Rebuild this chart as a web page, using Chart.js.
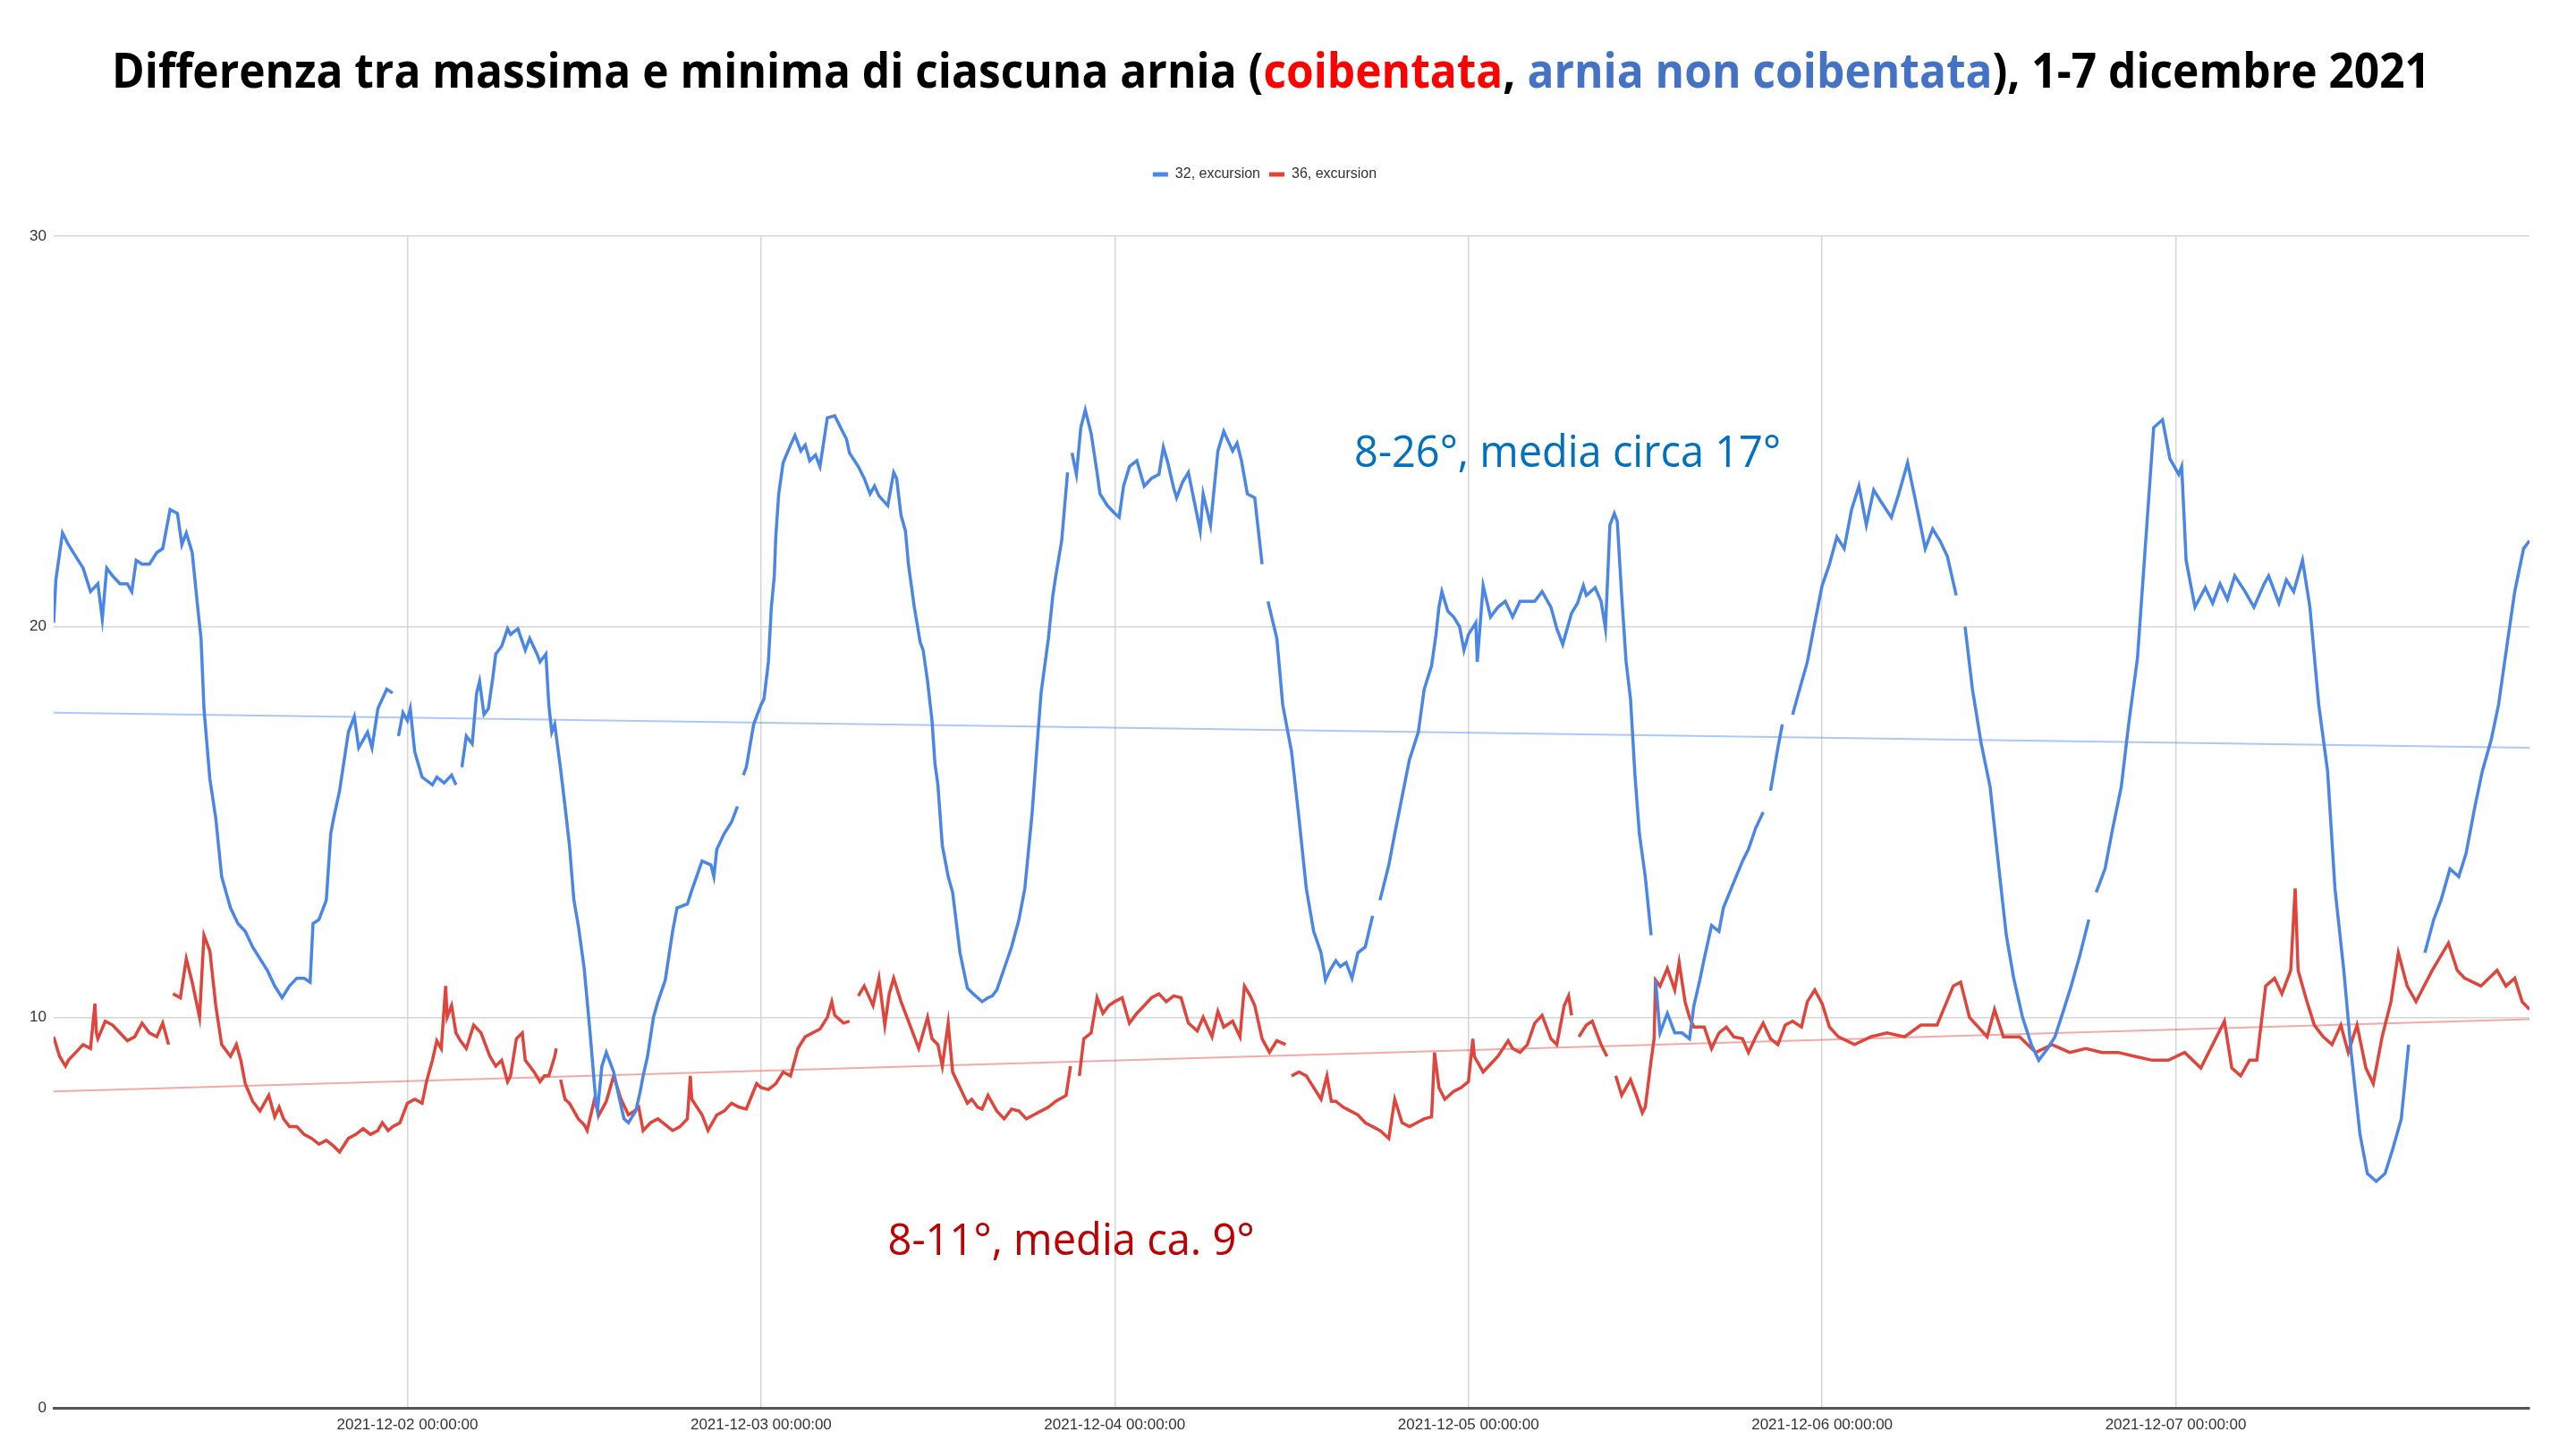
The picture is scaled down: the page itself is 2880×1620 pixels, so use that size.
<!DOCTYPE html>
<html>
<head>
<meta charset="utf-8">
<script src="https://cdn.jsdelivr.net/npm/chart.js@4.4.0/dist/chart.umd.min.js"></script>
<style>
  html, body { margin: 0; padding: 0; background: #fff; }
</style>
</head>
<body>
<canvas id="chart" width="2880" height="1620"></canvas>
<script>
// hours from 2021-12-01 00:00
const blueHours = [0,0.15,0.6,1,1.5,2,2.5,3,3.3,3.6,4,4.5,5,5.3,5.6,6,6.5,7,7.4,7.9,8.4,8.7,9,9.4,9.8,10,10.2,10.6,11,11.4,12,12.5,13,13.5,14,14.5,15,15.5,16,16.5,17,17.4,17.6,18,18.5,18.8,19,19.4,20,20.4,20.7,21,21.3,21.6,22,22.6,23,23.2,23.4,23.7,24,24.2,24.5,25,25.7,26,26.5,27,27.3,27.5,27.7,28,28.4,28.7,28.9,29.2,29.5,29.8,30,30.4,30.8,31,31.5,32,32.3,32.8,33,33.4,33.6,33.8,34,34.4,34.7,35,35.3,35.6,36,36.4,36.8,36.9,37.2,37.5,38,38.4,38.7,39,39.5,39.8,40,40.3,40.7,41,41.5,42,42.3,43,43.3,44,44.6,44.8,45,45.5,46,46.4,46.6,46.8,47,47.5,48,48.2,48.5,48.7,48.9,49,49.2,49.5,50,50.3,50.7,51,51.3,51.7,52,52.5,53,53.4,53.8,54,54.6,55,55.4,55.7,56,56.6,57,57.2,57.5,57.8,58,58.4,58.8,59,59.3,59.6,59.8,60,60.3,60.7,61,61.5,62,62.4,62.7,63,63.4,63.7,64,64.5,65,65.5,65.9,66.4,66.7,67,67.5,67.8,68,68.4,68.8,68.9,69.1,69.4,69.7,70,70.4,70.8,71,71.5,72,72.3,72.6,73,73.5,74,74.5,75,75.3,75.6,76,76.2,76.6,77,77.4,77.8,78,78.5,79,79.4,80,80.3,80.6,81,81.5,82,82.2,82.4,83,83.4,84,84.5,85,85.5,86,86.3,86.6,87,87.3,87.7,88.1,88.5,89,89.5,89.8,90,90.6,91,91.5,92,92.6,93,93.5,93.8,94,94.2,94.6,95,95.4,95.7,96,96.5,96.6,97,97.5,98,98.5,99,99.5,100,100.5,101,101.6,102,102.4,103,103.4,103.8,104,104.6,105,105.3,105.6,105.9,106.1,106.4,106.7,107,107.3,107.6,108,108.4,108.55,108.7,109,109.5,110,110.5,111,111.3,111.7,112,112.5,113,113.3,114,114.6,115,115.5,116,116.3,116.5,117,117.3,117.6,118,118.4,119,119.5,120,120.5,121,121.5,122,122.5,123,123.5,124,124.7,125.2,125.8,126.3,127,127.5,128,128.5,129.1,129.4,129.7,130.2,130.8,131.4,132,132.5,133,133.6,134.2,134.7,135.3,135.8,136.4,136.9,137.5,138.1,138.3,138.6,139.2,139.7,140.3,140.8,141.4,141.96,142.5,143.1,143.6,144.2,144.4,144.7,145.3,146,146.5,147,147.5,148,148.7,149.3,150,150.3,151,151.5,152,152.6,153.1,153.7,154.3,154.8,155.4,155.9,156.5,157,157.6,158.2,158.7,159.3,159.8,160.3,160.9,161.5,162,162.6,163.2,163.7,164.3,164.8,165.4,165.9,166.5,167,167.6,168]
const blueValues = [20.1,21.2,22.4,22.1,21.8,21.5,20.9,21.1,20.2,21.5,21.3,21.1,21.1,20.9,21.7,21.6,21.6,21.9,22.0,23.0,22.9,22.1,22.4,21.9,20.4,19.7,17.9,16.1,15.1,13.6,12.8,12.4,12.2,11.8,11.5,11.2,10.8,10.5,10.8,11.0,11.0,10.9,12.4,12.5,13.0,14.7,15.1,15.8,17.3,17.7,16.9,17.1,17.3,16.9,17.9,18.4,18.3,null,17.2,17.8,17.6,17.9,16.8,16.15,15.95,16.15,16.0,16.2,15.95,null,16.4,17.2,17.0,18.3,18.6,17.75,17.9,18.7,19.3,19.5,19.95,19.8,19.95,19.4,19.7,19.3,19.1,19.3,18.0,17.3,17.5,16.35,15.4,14.4,13.0,12.35,11.25,9.6,7.8,7.6,8.75,9.1,8.6,7.9,7.4,7.3,7.6,8.1,8.5,9.0,10.0,10.4,10.95,12.2,12.8,12.9,13.25,14.0,13.9,13.6,14.3,14.7,15.0,15.4,null,16.2,16.4,17.5,18.0,18.15,19.1,20.5,21.3,22.3,23.4,24.2,24.65,24.9,24.5,24.65,24.25,24.4,24.1,25.35,25.4,25.1,24.8,24.45,24.1,23.8,23.4,23.6,23.35,23.1,23.95,23.8,22.85,22.45,21.6,20.5,19.6,19.4,18.6,17.6,16.5,15.95,14.4,13.6,13.2,11.65,10.75,10.6,10.5,10.4,10.5,10.55,10.7,11.25,11.8,12.5,13.3,15.25,16.8,18.3,19.7,20.8,21.3,22.2,23.95,null,24.45,23.9,25.1,25.55,24.95,23.95,23.4,23.1,22.9,22.8,23.6,24.1,24.25,23.6,23.8,23.9,24.6,24.2,23.55,23.3,23.7,23.95,23.2,22.45,23.4,22.6,24.5,25.0,24.5,24.7,24.25,23.4,23.3,21.6,null,20.65,19.7,18.0,16.8,15.1,13.3,12.2,11.65,10.95,11.2,11.45,11.3,11.4,11.0,11.65,11.8,12.6,null,13.0,13.9,14.7,15.65,16.6,17.3,18.4,19.0,19.8,20.5,20.9,20.4,20.25,20.0,19.4,19.8,20.1,19.1,21.05,20.25,20.5,20.65,20.25,20.65,20.65,20.65,20.9,20.5,19.95,19.55,20.35,20.6,21.05,20.8,21.0,20.65,19.95,22.6,22.9,22.7,20.8,19.1,18.15,16.2,14.7,13.6,12.1,null,10.95,9.6,10.1,9.6,9.6,9.45,10.3,10.95,11.5,12.35,12.2,12.8,13.45,14.0,14.3,14.85,15.25,null,15.8,16.9,17.5,null,17.75,18.3,19.1,20.1,21.05,21.6,22.3,22.0,23.0,23.6,22.6,23.5,23.2,22.8,23.4,24.2,23.3,22.0,22.5,22.2,21.8,20.8,null,20.0,18.4,17.0,15.9,13.8,12.1,11.0,10.0,9.3,8.9,9.2,9.5,10.2,10.8,11.6,12.5,null,13.2,13.8,14.8,15.9,17.5,19.2,22.2,25.1,25.3,24.3,23.9,24.1,21.7,20.5,21.0,20.6,21.1,20.7,21.3,20.9,20.5,21.1,21.3,20.6,21.2,20.9,21.7,20.5,18.0,16.3,13.3,11.2,9.1,7.0,6.0,5.8,6.0,6.6,7.4,9.3,null,11.65,12.5,13.0,13.8,13.6,14.2,15.4,16.3,17.1,18.0,19.6,20.9,22.0,22.2]

const redHours = [0,0.4,0.8,1,1.5,2,2.5,2.8,2.9,3,3.5,4,4.5,5,5.5,6,6.5,7,7.4,7.8,7.9,8.1,8.6,9,9.4,9.9,10.2,10.6,11,11.4,12,12.4,12.7,13,13.5,14,14.6,15,15.3,15.6,16,16.5,17,17.5,18,18.5,19,19.4,20,20.5,21,21.5,22,22.3,22.7,23,23.5,23.8,24,24.5,25,25.3,25.7,26,26.3,26.6,26.7,27,27.3,27.6,28,28.5,29,29.6,30,30.4,30.8,31,31.4,31.8,32,32.6,33,33.3,33.6,34,34.1,34.3,34.4,34.7,35,35.6,36,36.2,36.7,37,37.5,38,38.5,39,39.4,39.7,40,40.5,41,41.5,42,42.5,43,43.2,43.3,44,44.4,45,45.5,46,46.5,47,47.7,48,48.5,49,49.5,50,50.5,51,51.5,52,52.5,52.8,53,53.6,54,54.3,54.6,55,55.6,56,56.4,56.7,57,57.5,58,58.7,59.3,59.6,60,60.3,60.7,61,61.5,62,62.3,62.7,63,63.4,64,64.5,65,65.5,66,66.5,67,67.5,68,68.7,69,69.3,69.6,69.9,70.4,70.8,71.2,71.6,72,72.5,73,73.5,74,74.5,75,75.5,76,76.5,77,77.6,78,78.6,79,79.4,80,80.5,80.8,81.2,81.5,82,82.5,83,83.6,83.8,84,84.5,85,85.5,86,86.4,86.7,87,87.5,88,88.5,89,89.5,90,90.6,91,91.5,92,92.5,93,93.5,93.7,94,94.4,95,95.5,96,96.3,96.4,97,97.5,98,98.7,99,99.5,100,100.5,101,101.6,102,102.5,102.8,103,103.2,103.5,104,104.4,105,105.4,105.7,106,106.4,107,107.4,107.8,108,108.4,108.6,108.7,109,109.5,110,110.3,110.7,111,111.3,112,112.5,113,113.5,114,114.6,115,115.5,116,116.5,117,117.5,118,118.6,119,119.5,120,120.5,121.1,122.2,123.3,124.4,125.6,126.7,127.8,128.9,129.4,130,131.2,131.7,132.3,133.4,134.5,135.6,136.8,137.9,139,140.1,141.2,142.4,143.5,144.6,145.7,147.3,147.8,148.4,149,149.5,150.1,150.7,151.2,151.8,152.1,152.3,152.9,153.4,154,154.6,155.2,155.7,156.3,156.9,157.4,158,158.6,159.1,159.7,160.3,161.4,162.5,163.1,163.6,164.7,165.8,166.4,167,167.5,168]
const redValues = [9.5,9.0,8.75,8.9,9.1,9.3,9.2,10.35,9.6,9.45,9.9,9.8,9.6,9.4,9.5,9.85,9.6,9.5,9.85,9.3,null,10.6,10.5,11.5,10.9,10.0,12.1,11.7,10.3,9.3,9.0,9.3,8.9,8.3,7.85,7.6,8.0,7.45,7.7,7.4,7.2,7.2,7.0,6.9,6.75,6.85,6.7,6.55,6.9,7.0,7.15,7.0,7.1,7.3,7.1,7.2,7.3,7.6,7.8,7.9,7.8,8.35,8.9,9.4,9.2,10.8,10.0,10.3,9.6,9.4,9.2,9.8,9.6,9.0,8.75,8.9,8.35,8.5,9.45,9.6,8.9,8.6,8.35,8.5,8.5,9.0,9.2,null,8.4,7.9,7.8,7.4,7.25,7.1,7.9,7.5,7.85,8.5,7.9,7.5,7.6,7.7,7.1,7.3,7.4,7.25,7.1,7.2,7.4,8.5,7.9,7.5,7.1,7.5,7.6,7.8,7.7,7.65,8.3,8.2,8.15,8.3,8.6,8.5,9.2,9.5,9.6,9.7,10.0,10.4,10.05,9.85,9.9,null,10.55,10.8,10.3,11.0,9.8,10.6,11.0,10.4,9.9,9.2,10.0,9.45,9.3,8.75,9.85,8.6,8.2,7.8,7.9,7.7,7.65,8.0,7.6,7.4,7.65,7.6,7.4,7.5,7.6,7.7,7.85,8.0,8.75,null,8.5,9.45,9.6,10.5,10.1,10.3,10.4,10.5,9.85,10.1,10.3,10.5,10.6,10.4,10.55,10.5,9.85,9.65,10.0,9.5,10.15,9.75,9.9,9.5,10.8,10.55,10.3,9.45,9.1,9.4,9.3,null,8.5,8.6,8.5,8.2,7.9,8.5,7.85,7.85,7.7,7.6,7.5,7.3,7.2,7.1,6.9,7.9,7.3,7.2,7.3,7.4,7.45,9.1,8.2,7.9,8.1,8.2,8.35,9.45,9.0,8.6,8.8,9.0,9.4,9.2,9.1,9.3,9.85,10.05,9.45,9.3,10.3,10.55,10.05,null,9.5,9.8,9.9,9.3,9.0,null,8.5,8.0,8.4,8.0,7.55,7.7,8.9,9.45,10.95,10.8,11.25,10.7,11.4,10.4,10.0,9.75,9.75,9.2,9.6,9.75,9.5,9.45,9.1,9.5,9.85,9.45,9.3,9.8,9.9,9.75,10.4,10.7,10.35,9.75,9.5,9.3,9.5,9.6,9.5,9.8,9.8,10.8,10.9,10.0,9.5,10.2,9.5,9.5,9.1,9.3,9.1,9.2,9.1,9.1,9.0,8.9,8.9,9.1,8.7,9.9,8.7,8.5,8.9,8.9,10.8,11.0,10.6,11.2,13.3,11.2,10.4,9.8,9.5,9.3,9.8,9.1,9.8,8.7,8.3,9.5,10.4,11.65,10.8,10.4,11.2,11.9,11.2,11.0,10.8,11.2,10.8,11.0,10.4,10.2]

const trendHours = [0, 168]
const blueTrend = [17.8, 16.9]
const redTrend = [8.1, 9.95]

const tickHours = [24, 48, 72, 96, 120, 144]
const tickLabels = ['2021-12-02 00:00:00', '2021-12-03 00:00:00', '2021-12-04 00:00:00',
  '2021-12-05 00:00:00', '2021-12-06 00:00:00', '2021-12-07 00:00:00']
const seriesNames = ['32, excursion', '36, excursion']

const titleParts = [
  ['Differenza tra massima e minima di ciascuna arnia (', '#000000'],
  ['coibentata', '#ff0000'],
  [', ', '#000000'],
  ['arnia non coibentata', '#4472c4'],
  ['), 1-7 dicembre 2021', '#000000'],
]
const notes = [
  { text: '8-26°, media circa 17°', color: '#0070c0', hour: 88.25, value: 24.09, width: 477 },
  { text: '8-11°, media ca. 9°', color: '#c00000', hour: 56.6, value: 3.92, width: 410 },
]

function toPoints(hours, values) {
  return hours.map((h, i) => ({ x: h, y: values[i] }))
}

// draws text squeezed/stretched horizontally so it spans the given width
function drawFitted(ctx, parts, x, y, width, font) {
  ctx.save()
  ctx.font = font
  ctx.textAlign = 'left'
  ctx.textBaseline = 'alphabetic'
  const full = parts.map(p => p[0]).join('')
  const k = width / ctx.measureText(full).width
  ctx.translate(x, y)
  ctx.scale(k, 1)
  let cx = 0
  parts.forEach(([text, color]) => {
    ctx.fillStyle = color
    ctx.fillText(text, cx, 0)
    cx += ctx.measureText(text).width
  })
  ctx.restore()
}

const textPlugin = {
  id: 'textPlugin',
  afterDraw(chart) {
    const ctx = chart.ctx
    drawFitted(ctx, titleParts, 125, 98, 2592, 'bold 53px "Open Sans"')
    notes.forEach(n => {
      const x = chart.scales.x.getPixelForValue(n.hour)
      const y = chart.scales.y.getPixelForValue(n.value)
      drawFitted(ctx, [[n.text, n.color]], x, y, n.width, '49px "Open Sans"')
    })
  }
}

// extra room under the legend
const legendSpace = {
  id: 'legendSpace',
  beforeInit(chart) {
    const fit = chart.legend.fit
    chart.legend.fit = function () {
      fit.call(this)
      this.height += 51
    }
  }
}

new Chart(document.getElementById('chart'), {
  type: 'line',
  data: {
    datasets: [{
      label: seriesNames[0],
      data: toPoints(blueHours, blueValues),
      borderColor: '#4a86e8',
      backgroundColor: '#4a86e8',
      borderWidth: 3.5,
    }, {
      label: seriesNames[1],
      data: toPoints(redHours, redValues),
      borderColor: '#e0443a',
      backgroundColor: '#e0443a',
      borderWidth: 3.5,
    }, {
      label: 'trend 32',
      data: toPoints(trendHours, blueTrend),
      borderColor: 'rgba(74, 134, 232, 0.45)',
      borderWidth: 2,
    }, {
      label: 'trend 36',
      data: toPoints(trendHours, redTrend),
      borderColor: 'rgba(224, 68, 58, 0.45)',
      borderWidth: 2,
    }]
  },
  options: {
    responsive: false,
    animation: false,
    spanGaps: false,
    elements: {
      point: { radius: 0 },
      line: { tension: 0 }
    },
    layout: { padding: { top: 177, right: 52, bottom: 0, left: 0 } },
    plugins: {
      tooltip: { enabled: false },
      legend: {
        position: 'top',
        labels: {
          boxWidth: 17,
          boxHeight: 5,
          padding: 10,
          color: '#333',
          font: { family: '"Liberation Sans"', size: 16 },
          generateLabels(chart) {
            return Chart.defaults.plugins.legend.labels.generateLabels(chart)
              .filter(l => l.datasetIndex < 2)
              .map(l => Object.assign(l, { lineWidth: 0, fillStyle: l.strokeStyle }))
          }
        }
      }
    },
    scales: {
      x: {
        type: 'linear',
        min: 0,
        max: 168,
        afterBuildTicks(scale) {
          scale.ticks = tickHours.map(v => ({ value: v }))
        },
        afterFit(scale) {
          scale.height = 46
        },
        ticks: {
          autoSkip: false,
          maxRotation: 0,
          padding: 9,
          color: '#333',
          font: { family: '"Liberation Sans"', size: 17 },
          callback: v => tickLabels[tickHours.indexOf(v)]
        },
        grid: { color: '#d6d6d6', lineWidth: 1.5, drawTicks: false },
        border: { color: '#555', width: 3 }
      },
      y: {
        min: 0,
        max: 30,
        afterFit(scale) {
          scale.width = 60
        },
        ticks: {
          stepSize: 10,
          padding: 8,
          color: '#333',
          font: { family: '"Liberation Sans"', size: 17 }
        },
        grid: { color: '#d6d6d6', lineWidth: 1.5, drawTicks: false },
        border: { display: false }
      }
    }
  },
  plugins: [legendSpace, textPlugin]
})
</script>
</body>
</html>
